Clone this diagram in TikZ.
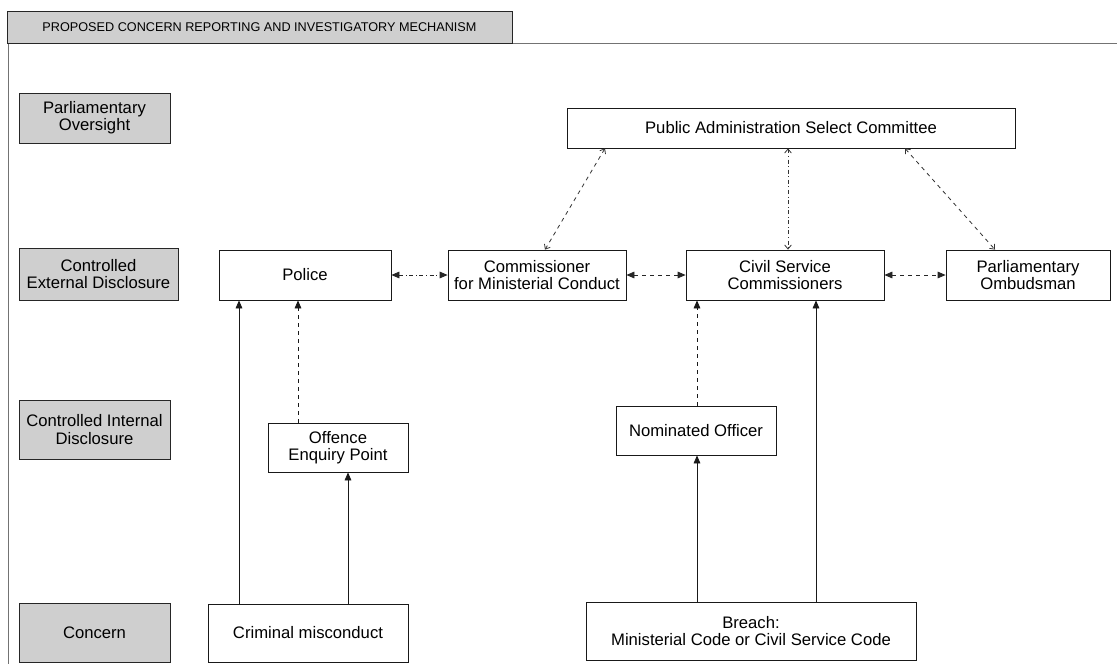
\documentclass[tikz,border=0pt]{standalone}
\usepackage{fontspec}
\setmainfont{Liberation Sans}
\usetikzlibrary{arrows.meta}
\newcommand{\pxu}{0.75pt}
\begin{document}
\begin{tikzpicture}[x=0.75pt,y=-0.75pt,font=\fontsize{12.5}{13}\selectfont]
        \tikzstyle{level}=[rectangle,draw=black!85,fill=black!19,semithick,align=center,inner sep=1pt]
        \tikzstyle{body}=[rectangle,draw=black!90,fill=white,semithick,align=center,inner sep=1pt]
        \tikzstyle{flow}=[draw=black!90,semithick,-{Triangle[length=6pt,width=5pt]}]
        \tikzstyle{link}=[draw=black!85,semithick,dashed,{Triangle[length=6pt,width=5pt]}-{Triangle[length=6pt,width=5pt]}]
        \tikzstyle{query}=[draw=black!80,semithick,dashed,{Straight Barb[length=3pt,width=5pt]}-{Straight Barb[length=3pt,width=5pt]}]
        \useasboundingbox (0,0) rectangle (1117,664);
        % frame and heading
        \draw[black!55,thin] (8,43) -- (8,664);
        \draw[black!55,thin] (512,43) -- (1117,43);
        \node [level,minimum width=505*\pxu,minimum height=32*\pxu,font=\fontsize{9.5}{11}\selectfont] (title) at (259.5,27) {PROPOSED CONCERN REPORTING AND INVESTIGATORY MECHANISM};
       \begin{scope}
         % levels
         \node [level,minimum width=151*\pxu,minimum height=50*\pxu] (pov) at (94.5,118) {Parliamentary\\Oversight};
         \node [level,minimum width=159*\pxu,minimum height=52*\pxu] (ced) at (98.5,274) {Controlled\\External Disclosure};
         \node [level,minimum width=151*\pxu,minimum height=59*\pxu] (cid) at (94.5,429.5) {Controlled Internal\\Disclosure};
         \node [level,minimum width=151*\pxu,minimum height=59*\pxu] (con) at (94.5,633) {Concern};

         % bodies
         \node [body,minimum width=448*\pxu,minimum height=40*\pxu] (pasc) at (791,128) {Public Administration Select Committee};
         \node [body,minimum width=172*\pxu,minimum height=50*\pxu] (police) at (305,275) {Police};
         \node [body,minimum width=178*\pxu,minimum height=50*\pxu] (cmc) at (537,275) {Commissioner\\for Ministerial Conduct};
         \node [body,minimum width=198*\pxu,minimum height=50*\pxu] (csc) at (785,275) {Civil Service\\Commissioners};
         \node [body,minimum width=164*\pxu,minimum height=50*\pxu] (ombud) at (1028,275) {Parliamentary\\Ombudsman};
         \node [body,minimum width=140*\pxu,minimum height=49*\pxu] (oep) at (338,447.5) {Offence\\Enquiry Point};
         \node [body,minimum width=160*\pxu,minimum height=49*\pxu] (nomoff) at (696,430.5) {Nominated Officer};
         \node [body,minimum width=200*\pxu,minimum height=58*\pxu] (crim) at (308,633) {Criminal misconduct};
         \node [body,minimum width=330*\pxu,minimum height=58*\pxu] (breach) at (751,631) {Breach:\\Ministerial Code or Civil Service Code};

         \coordinate (x1) at (239,0);
         \coordinate (x2) at (298,0);
         \coordinate (x3) at (348,0);
         \coordinate (x4) at (697,0);
         \coordinate (x5) at (816,0);
         \coordinate (x6) at (605,0);
         \coordinate (x7) at (545,0);
         \coordinate (x8) at (788,0);
         \coordinate (x9) at (905,0);
         \coordinate (x10) at (995,0);

         \path (crim.north -| x1) edge [flow] (police.south -| x1);
         \path (crim.north -| x3) edge [flow] (oep.south -| x3);
         \path (oep.north -| x2) edge [flow,dashed] (police.south -| x2);
         \path (breach.north -| x4) edge [flow] (nomoff.south -| x4);
         \path (breach.north -| x5) edge [flow] (csc.south -| x5);
         \path (nomoff.north -| x4) edge [flow,dashed] (csc.south -| x4);

         \path (police) edge [link,dash dot] (cmc);
         \path (cmc) edge [link] (csc);
         \path (csc) edge [link] (ombud);

         \path (pasc.south -| x6) edge [query] (cmc.north -| x7);
         \path (pasc.south -| x8) edge [query,dash dot] (csc.north -| x8);
         \path (pasc.south -| x9) edge [query] (ombud.north -| x10);
        \end{scope}
      \end{tikzpicture}
\end{document}
